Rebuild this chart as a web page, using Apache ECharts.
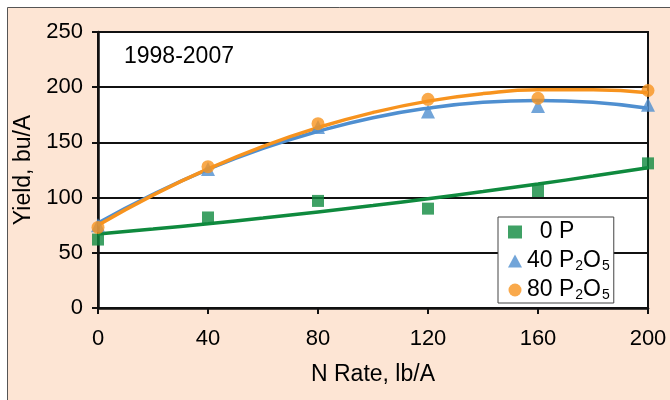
<!DOCTYPE html>
<html>
<head>
<meta charset="utf-8">
<script src="https://cdn.jsdelivr.net/npm/echarts@6/dist/echarts.min.js"></script>
<style>
html,body{margin:0;padding:0;background:#fff;}
#chart{width:670px;height:400px;}
</style>
</head>
<body>
<div id="chart"></div>
<script>
// N rate categories (lb/A)
const nRates = [0, 40, 80, 120, 160, 200];
// Observed yields (bu/A)
const yield0P = [62, 82, 97, 90, 106, 131];
const yield40P = [75, 126, 164, 178, 183, 184];
const yield80P = [73, 128, 167, 189, 190, 197];
// Trend curves at every 20 lb/A
const trendX = [0, 20, 40, 60, 80, 100, 120, 140, 160, 180, 200];
const trend0P = [67, 71.5, 76.3, 81.5, 87, 92.8, 99, 105.5, 112.3, 119.5, 127];
const trend40P = [77, 103, 125.6, 144.6, 160, 172.4, 181, 186.3, 188, 186.3, 181];
const trend80P = [75, 102.2, 126, 146.5, 163.5, 177.1, 187.4, 194.2, 197.6, 197.6, 195];
const yTicks = [0, 50, 100, 150, 200, 250];
const xTicks = [0, 40, 80, 120, 160, 200];

const FONT = 'Liberation Sans';
const cGreen = '#0f8a3e', cBlue = '#4f8fd0', cOrange = '#f7931e';
const pair = (xs, ys) => xs.map((x, i) => [x, ys[i]]);

const chart = echarts.init(document.getElementById('chart'));
chart.setOption({
  animation: false,
  textStyle: {fontFamily: FONT},
  graphic: [
    {type: 'rect', z: -10, silent: true,
     shape: {x: 7.5, y: 7.5, width: 700, height: 420},
     style: {fill: '#fde5d4', stroke: '#555', lineWidth: 1}},
    {type: 'text', left: 124, top: 45, z: 10,
     style: {text: '1998-2007', font: '23px "Liberation Sans"', fill: '#000'}}
  ],
  grid: {left: 98, right: 22, top: 32, bottom: 92, show: true,
         backgroundColor: '#fff', borderColor: '#111', borderWidth: 2},
  xAxis: {
    type: 'value', min: 0, max: 200, interval: 40,
    name: 'N Rate, lb/A', nameLocation: 'middle', nameGap: 55,
    nameTextStyle: {fontSize: 23, color: '#000', fontFamily: FONT},
    axisLine: {show: true, lineStyle: {color: '#111', width: 2.5}},
    axisTick: {show: true, length: 6, lineStyle: {color: '#111', width: 2}},
    axisLabel: {fontSize: 22, color: '#000', margin: 20, fontFamily: FONT,
                showMaxLabel: true,
                formatter: v => xTicks.includes(v) ? String(v) : ''},
    splitLine: {show: false}
  },
  yAxis: {
    type: 'value', min: 0, max: 250, interval: 50,
    name: 'Yield, bu/A', nameLocation: 'middle', nameGap: 62, nameRotate: 90,
    nameTextStyle: {fontSize: 23, color: '#000', fontFamily: FONT},
    axisLine: {show: true, lineStyle: {color: '#111', width: 2.5}},
    axisTick: {show: true, length: 6, lineStyle: {color: '#111', width: 2}},
    axisLabel: {fontSize: 22, color: '#000', margin: 15, fontFamily: FONT,
                formatter: v => yTicks.includes(v) ? String(v) : ''},
    splitLine: {show: true, lineStyle: {color: '#111', width: 2}}
  },
  legend: {
    orient: 'vertical', left: 498, top: 217,
    backgroundColor: '#fff', borderColor: '#444', borderWidth: 1,
    padding: [3, 4, 1, 10], itemGap: 3, itemWidth: 14, itemHeight: 13,
    data: ['0 P', '40 P2O5', '80 P2O5'],
    formatter: function (name) {
      if (name === '0 P') return '  0 P';
      if (name === '40 P2O5') return '40 P{s|2}O{s|5}';
      return '80 P{s|2}O{s|5}';
    },
    textStyle: {fontSize: 23, color: '#000', fontFamily: FONT, lineHeight: 24,
      rich: {s: {fontSize: 14, color: '#000', fontFamily: FONT,
                 verticalAlign: 'bottom', lineHeight: 24, padding: [12, 0, 0, 1]}}}
  },
  series: [
    {type: 'line', name: 't0', data: pair(trendX, trend0P), smooth: true,
     showSymbol: false, lineStyle: {color: cGreen, width: 3.5}, z: 2, silent: true},
    {type: 'line', name: 't40', data: pair(trendX, trend40P), smooth: true,
     showSymbol: false, lineStyle: {color: cBlue, width: 3.5}, z: 2, silent: true},
    {type: 'line', name: 't80', data: pair(trendX, trend80P), smooth: true,
     showSymbol: false, lineStyle: {color: cOrange, width: 3.5}, z: 2, silent: true},
    {type: 'scatter', name: '0 P', data: pair(nRates, yield0P), symbol: 'rect',
     symbolSize: 12, itemStyle: {color: cGreen}, z: 3},
    {type: 'scatter', name: '40 P2O5', data: pair(nRates, yield40P), symbol: 'triangle',
     symbolSize: 14, itemStyle: {color: cBlue}, z: 3},
    {type: 'scatter', name: '80 P2O5', data: pair(nRates, yield80P), symbol: 'circle',
     symbolSize: 13, itemStyle: {color: cOrange}, z: 4}
  ]
});
</script>
</body>
</html>
